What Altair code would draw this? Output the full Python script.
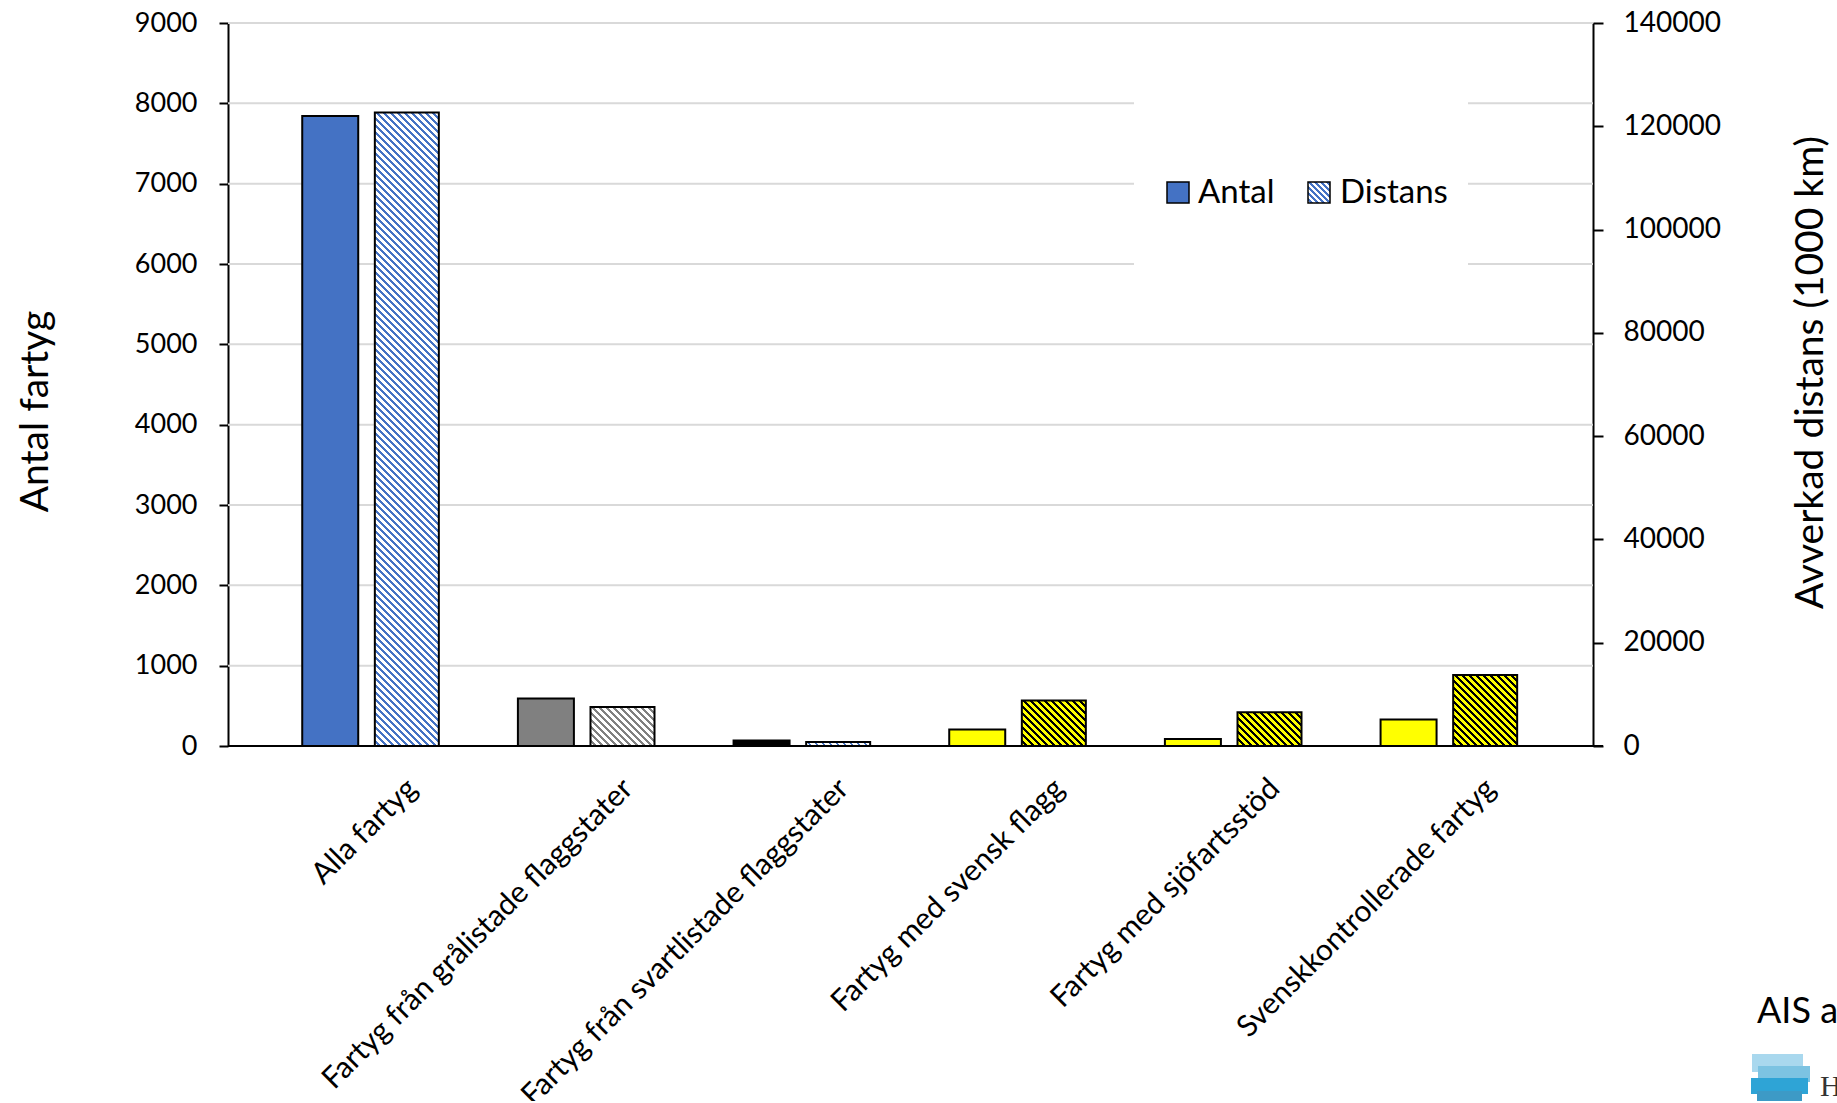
import math
import altair as alt
import pandas as pd

# ---------------- data ----------------
categories = [
    "Alla fartyg",
    "Fartyg från grålistade flaggstater",
    "Fartyg från svartlistade flaggstater",
    "Fartyg med svensk flagg",
    "Fartyg med sjöfartsstöd",
    "Svenskkontrollerade fartyg",
]
antal = [7842, 590, 67, 204, 87, 329]
distans = [122650, 7550, 775, 8790, 6525, 13730]

y1_ticks = [0, 1000, 2000, 3000, 4000, 5000, 6000, 7000, 8000, 9000]
y2_ticks = [0, 20000, 40000, 60000, 80000, 100000, 120000, 140000]
grid_values = [1000, 2000, 3000, 4000, 5000, 6000, 7000, 8000, 9000]
legend_items = ["Antal", "Distans"]
footer_text = ["AIS a"]
logo_letter = ["H"]

# ---------------- styles ----------------
antal_fill = ["#4472C4", "#808080", "#000000", "#FFFF00", "#FFFF00", "#FFFF00"]
hatch_bg = ["#FFFFFF", "#FFFFFF", "#FFFFFF", "#FFFF00", "#FFFF00", "#FFFF00"]
hatch_fg = ["#4472C4", "#808080", "#4472C4", "#000000", "#000000", "#000000"]
hatch_frac = [0.4, 0.38, 0.4, 0.42, 0.42, 0.42]

FONT = "Lato"
W, H = 1365, 723
Y1_MAX, Y2_MAX = 9000, 140000
ANTAL_W, DIST_W = 56, 64
PERIOD = 7.0
MAX_SEG_PX = 80.0


def hatch(w, h, bg, fg, frac=0.4, period=PERIOD, phase=0.0):
    """Diagonal '\\' stripes as a linear gradient in bounding-box units.
    phase: pixel offset (from the top of the whole bar) so pieces line up."""
    # local stripe coordinate s = X - Y + h  (0 at bottom-left, w+h at top-right)
    ref = h + phase
    s0 = ref - period * math.ceil(ref / period)
    n = max(1, int(math.ceil((w + h - s0) / period)))
    L = n * period
    stops = []
    for i in range(n):
        a = round(i / n, 6)
        b = round((i + frac) / n, 6)
        c = round((i + 1) / n, 6)
        stops += [
            {"offset": a, "color": fg},
            {"offset": b, "color": fg},
            {"offset": b, "color": bg},
            {"offset": c, "color": bg},
        ]
    q = w * w + h * h
    x1 = w * s0 / q
    y1 = 1 - h * s0 / q
    x2 = x1 + w * L / q
    y2 = y1 - h * L / q
    return {"gradient": "linear", "x1": x1, "y1": y1, "x2": x2, "y2": y2,
            "stops": stops}


df = pd.DataFrame({"cat": categories, "antal": antal, "distans": distans,
                   "afill": antal_fill})
grid_df = pd.DataFrame({"v": grid_values})

xenc = alt.X(
    "cat:N",
    sort=categories,
    title=None,
    scale=alt.Scale(domain=categories, range=[71, W], paddingInner=0, paddingOuter=0),
    axis=alt.Axis(
        labelAngle=315, labelAlign="right", labelBaseline="top", labelPadding=27,
        labelOffset=-5, labelFontSize=30, labelFont=FONT, labelColor="black",
        labelLimit=0, labelOverlap=False, ticks=False, domain=False, grid=False,
    ),
)

y1_scale = alt.Scale(domain=[0, Y1_MAX], nice=False)
y2_scale = alt.Scale(domain=[0, Y2_MAX], nice=False)
y1_axis = alt.Axis(
    orient="left", values=y1_ticks, format="d", grid=False, domain=True,
    domainColor="black", domainWidth=2, ticks=True,
    tickColor="black", tickSize=9, tickWidth=2, labelFontSize=27, labelPadding=22,
    labelFont=FONT, labelColor="black",
    title="Antal fartyg", titleFont=FONT, titleFontSize=39, titleFontWeight="normal",
    titleColor="black", titleAngle=270, titleX=-181, titleY=388, titleAlign="center",
    titleBaseline="alphabetic",
)
y2_axis = alt.Axis(
    orient="right", values=y2_ticks, format="d", grid=False, domain=True,
    domainColor="black", domainWidth=2, ticks=True, tickColor="black", tickSize=10,
    tickWidth=2, labelFontSize=28, labelPadding=20, labelFont=FONT,
    labelColor="black", labelAlign="left",
    title="Avverkad distans (1000 km)", titleFont=FONT, titleFontSize=39,
    titleFontWeight="normal", titleColor="black", titleAngle=270, titleX=229,
    titleY=349, titleAlign="center", titleBaseline="alphabetic",
)

gridlines = alt.Chart(grid_df).mark_rule(color="#D9D9D9", strokeWidth=2).encode(
    y=alt.Y("v:Q", scale=y1_scale, axis=y1_axis), x=alt.value(0), x2=alt.value(W)
)
antal_bars = alt.Chart(df).mark_bar(
    width=ANTAL_W, xOffset=-76.6, stroke="black", strokeWidth=2
).encode(
    x=xenc,
    y=alt.Y("antal:Q", scale=y1_scale, axis=y1_axis),
    fill=alt.Fill("afill:N", scale=None),
)
baseline = alt.Chart(df).transform_filter(
    alt.FieldEqualPredicate(field="cat", equal=categories[0])
).mark_rule(color="black", strokeWidth=2).encode(
    y=alt.datum(0), x=alt.value(0), x2=alt.value(W + 10)
)
antal_group = alt.layer(gridlines, baseline, antal_bars)

# Distans bars: hatch drawn in pieces (keeps each gradient small enough to
# render crisply), then an outline bar on top.
px_unit = Y2_MAX / H  # data units per pixel on the right axis
seg_rows = []
for i, c in enumerate(categories):
    h_tot = distans[i] / Y2_MAX * H
    nseg = max(1, int(math.ceil(h_tot / MAX_SEG_PX)))
    for j in range(nseg):
        hi = distans[i] * (j + 1) / nseg
        lo = distans[i] * j / nseg
        lo_ext = max(0.0, lo - 1.0 * px_unit) if j > 0 else 0.0
        top_px = (distans[i] - hi) / Y2_MAX * H
        h_px = (hi - lo_ext) / Y2_MAX * H
        seg_rows.append({"cat": c, "seg": f"{i}-{j}", "lo": lo_ext, "hi": hi,
                         "i": i, "top": top_px, "h": h_px})
seg_df = pd.DataFrame(seg_rows)

dist_layers = []
for r in seg_rows:
    i = r["i"]
    dist_layers.append(
        alt.Chart(seg_df[["cat", "seg", "lo", "hi"]]).transform_filter(
            alt.FieldEqualPredicate(field="seg", equal=r["seg"])
        ).mark_bar(
            width=DIST_W, strokeWidth=0,
            fill=hatch(DIST_W, r["h"], hatch_bg[i], hatch_fg[i], hatch_frac[i],
                       PERIOD, r["top"]),
        ).encode(
            x=xenc,
            y=alt.Y("hi:Q", scale=y2_scale, axis=y2_axis),
            y2="lo:Q",
        )
    )
dist_outline = alt.Chart(df).mark_bar(
    width=DIST_W, stroke="black", strokeWidth=2, fillOpacity=0, fill="white"
).encode(
    x=xenc,
    y=alt.Y("distans:Q", scale=y2_scale, axis=y2_axis),
)
dist_group = alt.layer(*dist_layers, dist_outline)

# ---------------- legend ----------------
leg_df = pd.DataFrame({"item": legend_items})
leg_box = alt.Chart(leg_df).transform_filter(
    alt.FieldEqualPredicate(field="item", equal="Antal")
).mark_rect(fill="white").encode(
    x=alt.value(906), x2=alt.value(1240), y=alt.value(72), y2=alt.value(262)
)
sw_antal = alt.Chart(leg_df).transform_filter(
    alt.FieldEqualPredicate(field="item", equal="Antal")
).mark_rect(fill="#4472C4", stroke="black", strokeWidth=1.5).encode(
    x=alt.value(939), x2=alt.value(961), y=alt.value(159), y2=alt.value(180)
)
sw_dist = alt.Chart(leg_df).transform_filter(
    alt.FieldEqualPredicate(field="item", equal="Distans")
).mark_rect(
    fill=hatch(22, 21, "#FFFFFF", "#4472C4", 0.38, 6.0), stroke="black", strokeWidth=1.5
).encode(
    x=alt.value(1080), x2=alt.value(1102), y=alt.value(159), y2=alt.value(180)
)
txt_antal = alt.Chart(leg_df).transform_filter(
    alt.FieldEqualPredicate(field="item", equal="Antal")
).mark_text(align="left", baseline="alphabetic", font=FONT, fontSize=33,
            color="black").encode(
    x=alt.value(970), y=alt.value(180), text="item:N"
)
txt_dist = alt.Chart(leg_df).transform_filter(
    alt.FieldEqualPredicate(field="item", equal="Distans")
).mark_text(align="left", baseline="alphabetic", font=FONT, fontSize=33,
            color="black").encode(
    x=alt.value(1112), y=alt.value(180), text="item:N"
)

# ---------------- footer / logo ----------------
foot_df = pd.DataFrame({"t": footer_text})
footer = alt.Chart(foot_df).mark_text(
    align="left", baseline="alphabetic", font=FONT, fontSize=36, color="black"
).encode(x=alt.value(1529), y=alt.value(1000), text="t:N")

logo_df = pd.DataFrame({"t": logo_letter})
logo_h = alt.Chart(logo_df).mark_text(
    align="left", baseline="alphabetic", font="Liberation Serif", fontSize=30,
    color="#333333"
).encode(x=alt.value(1592), y=alt.value(1073), text="t:N")
logo_r1 = alt.Chart(logo_df).mark_rect(fill="#A9D8EE").encode(
    x=alt.value(1524), x2=alt.value(1575), y=alt.value(1031), y2=alt.value(1049))
logo_r2 = alt.Chart(logo_df).mark_rect(fill="#7CC3E2").encode(
    x=alt.value(1530), x2=alt.value(1582), y=alt.value(1043), y2=alt.value(1059))
logo_r3 = alt.Chart(logo_df).mark_rect(fill="#2EA4D6").encode(
    x=alt.value(1523), x2=alt.value(1580), y=alt.value(1055), y2=alt.value(1071))
logo_r4 = alt.Chart(logo_df).mark_rect(fill="#3D9AC6").encode(
    x=alt.value(1529), x2=alt.value(1574), y=alt.value(1068), y2=alt.value(1082))

chart = alt.layer(
    antal_group, dist_group, leg_box, sw_antal, sw_dist, txt_antal, txt_dist,
    footer, logo_r1, logo_r2, logo_r3, logo_r4, logo_h,
).resolve_scale(y="independent").properties(
    width=W, height=H,
    autosize=alt.AutoSizeParams(type="none"),
    padding={"left": 228, "top": 23, "right": 244, "bottom": 355},
    background="white",
).configure_view(stroke=None)

chart.save("out.html", embed_options={"renderer": "svg", "actions": False})
